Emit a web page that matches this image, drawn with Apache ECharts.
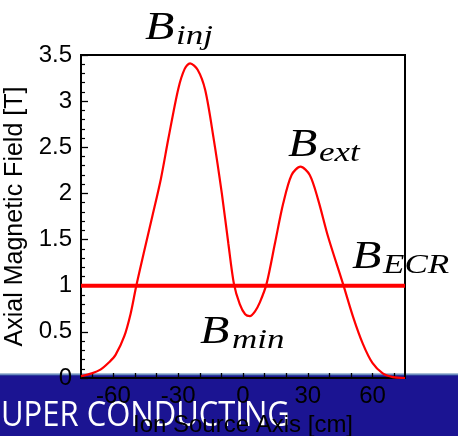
<!DOCTYPE html>
<html>
<head>
<meta charset="utf-8">
<script src="https://cdn.jsdelivr.net/npm/echarts@6/dist/echarts.min.js"></script>
<style>
html,body{margin:0;padding:0;background:#fff;}
#chart{width:458px;height:436px;}
</style>
</head>
<body>
<div id="chart"></div>
<script>
// Axial field profile
const curveX = [-75, -70, -66, -62, -59, -55, -52, -49.4, -46, -42, -38, -34.5, -30, -27, -24.5, -21, -17.5, -13.7, -9.8, -6.8, -4.2, -1.5, 1, 3.2, 5.5, 7.8, 10.9, 14.8, 18.6, 22.5, 26.6, 30.9, 34.8, 39.4, 46.3, 51, 55.5, 60, 64.7, 69.4, 75];
const curveB = [0.02, 0.05, 0.09, 0.17, 0.25, 0.45, 0.70, 1.0, 1.35, 1.75, 2.16, 2.6, 3.13, 3.35, 3.41, 3.34, 3.12, 2.61, 2.0, 1.46, 1.02, 0.8, 0.69, 0.67, 0.72, 0.82, 1.02, 1.46, 1.89, 2.2, 2.29, 2.2, 1.93, 1.53, 1.02, 0.66, 0.37, 0.16, 0.05, 0.01, 0.0];
const ecrX = [-75, 75];
const ecrB = [1, 1];
const xTickValues = [-70, -60, -50, -40, -30, -20, -10, 0, 10, 20, 30, 40, 50, 60, 70];
const xLabelValues = [-60, -30, 0, 30, 60];
const xName = 'Ion Source Axis [cm]';
const yName = 'Axial Magnetic Field [T]';
const bannerText = 'UPER CONDUCTING';
const annotations = [
  { main: 'B', sub: 'inj' },
  { main: 'B', sub: 'ext' },
  { main: 'B', sub: 'ECR' },
  { main: 'B', sub: 'min' }
];

const chart = echarts.init(document.getElementById('chart'), null, { renderer: 'canvas' });

const annoPos = [
  [145, 42, 176, 46],
  [288, 159, 319, 163],
  [352, 271, 383, 275],
  [200, 346, 232, 350]
];
const serif = 'Liberation Serif';
const graphics = [
  { type: 'rect', z: -10, shape: { x: 0, y: 373, width: 458, height: 1 }, style: { fill: '#a9bfd6' } },
  { type: 'rect', z: -10, shape: { x: 0, y: 374, width: 458, height: 1 }, style: { fill: '#6d8cbf' } },
  { type: 'rect', z: -10, shape: { x: 0, y: 375, width: 458, height: 1 }, style: { fill: '#2a3a9a' } },
  { type: 'rect', z: -10, shape: { x: 0, y: 376, width: 458, height: 60 }, style: { fill: '#1b1492' } },
  { type: 'text', z: -9, x: 1, y: 416, scaleY: 1.13, style: { text: bannerText, fill: '#ffffff', font: '31px "Open Sans"', verticalAlign: 'middle', align: 'left' } }
];
annotations.forEach((a, i) => {
  const p = annoPos[i];
  graphics.push({ type: 'text', z: 50, x: p[0], y: p[1] - 13.6, scaleX: 1.2, style: { text: a.main, fill: '#000', font: 'italic 40px "' + serif + '"', verticalAlign: 'middle', align: 'left' } });
  graphics.push({ type: 'text', z: 50, x: p[2], y: p[3] - 9.5, scaleX: 1.25, style: { text: a.sub, fill: '#000', font: 'italic 28px "' + serif + '"', verticalAlign: 'middle', align: 'left' } });
});

const option = {
  animation: false,
  backgroundColor: 'transparent',
  grid: { left: 81, right: 53, top: 55, bottom: 58, outerBoundsMode: 'none', containLabel: false, show: true, borderColor: '#000', borderWidth: 2, backgroundColor: 'transparent' },
  xAxis: {
    type: 'value', min: -75, max: 75,
    name: xName, nameLocation: 'middle', nameGap: 32,
    nameTextStyle: { color: '#000', fontSize: 24, fontFamily: 'Liberation Sans' },
    axisLine: { show: true, onZero: false, lineStyle: { color: '#000', width: 2 } },
    axisTick: { show: true, inside: true, length: 5, lineStyle: { color: '#000', width: 1.3 }, customValues: xTickValues },
    axisLabel: { color: '#000', fontSize: 24, fontFamily: 'Liberation Sans', margin: 6, customValues: xLabelValues },
    splitLine: { show: false }
  },
  yAxis: {
    type: 'value', min: 0, max: 3.5, interval: 0.5,
    name: yName, nameLocation: 'middle', nameGap: 37,
    nameTextStyle: { color: '#000', fontSize: 25, fontFamily: 'Liberation Sans' },
    axisLine: { show: true, onZero: false, lineStyle: { color: '#000', width: 2 } },
    axisTick: { show: true, inside: true, length: 7, lineStyle: { color: '#000', width: 1.3 } },
    minorTick: { show: true, splitNumber: 5, length: 4, lineStyle: { color: '#000', width: 1.2 } },
    axisLabel: { color: '#000', fontSize: 24, fontFamily: 'Liberation Sans', margin: 9 },
    splitLine: { show: false }
  },
  series: [
    {
      type: 'line', data: curveX.map((x, i) => [x, curveB[i]]),
      smooth: 0.3, showSymbol: false, symbol: 'none', clip: true,
      lineStyle: { color: '#ff0000', width: 2.2 }, z: 3
    },
    {
      type: 'line', data: ecrX.map((x, i) => [x, ecrB[i]]),
      showSymbol: false, symbol: 'none',
      lineStyle: { color: '#ff0000', width: 4 }, z: 4
    }
  ],
  graphic: graphics
};
chart.setOption(option);
</script>
</body>
</html>
